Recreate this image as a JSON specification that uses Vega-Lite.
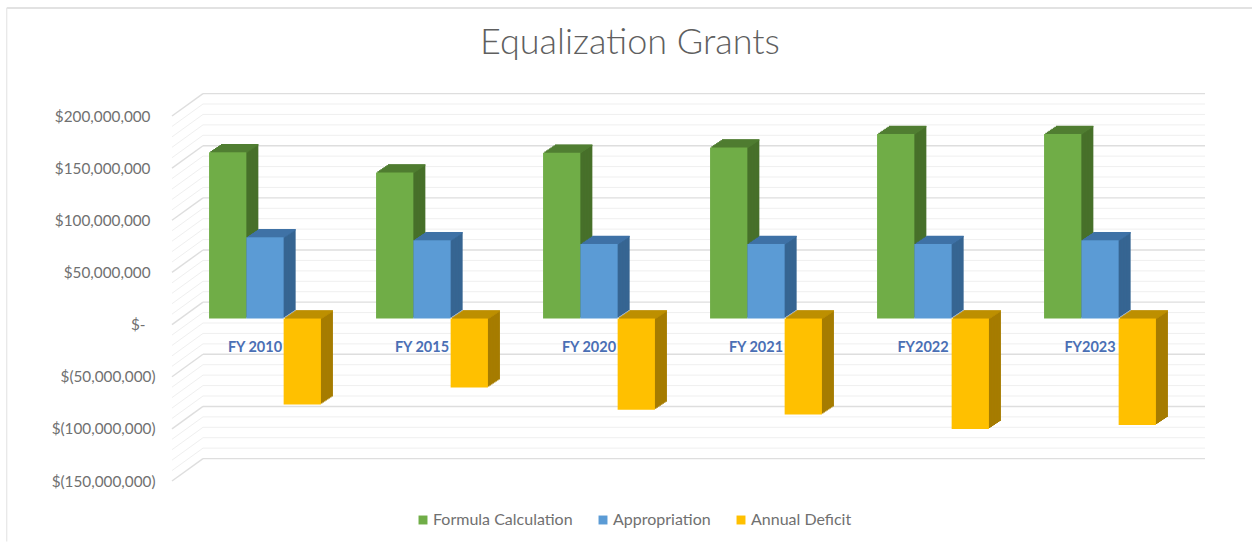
{"$schema":"https://vega.github.io/schema/vega-lite/v6.json","width":1033,"height":365,"autosize":"none","padding":{"left":172,"top":116,"right":47,"bottom":61},"background":"white","config":{"view":{"stroke":null}},
"title":{"text":"Equalization Grants","anchor":"start","frame":"group","dx":308,"offset":-55,"font":"Lato","fontSize":36,"fontWeight":300,"color":"#5f5f5f"},
"datasets":{"bars":[
{"fy":"FY 2010","series":"Formula Calculation","value":159500000},{"fy":"FY 2010","series":"Appropriation","value":78000000},{"fy":"FY 2010","series":"Annual Deficit","value":-82500000},
{"fy":"FY 2015","series":"Formula Calculation","value":140000000},{"fy":"FY 2015","series":"Appropriation","value":75000000},{"fy":"FY 2015","series":"Annual Deficit","value":-66000000},
{"fy":"FY 2020","series":"Formula Calculation","value":159000000},{"fy":"FY 2020","series":"Appropriation","value":71500000},{"fy":"FY 2020","series":"Annual Deficit","value":-87500000},
{"fy":"FY 2021","series":"Formula Calculation","value":164000000},{"fy":"FY 2021","series":"Appropriation","value":71500000},{"fy":"FY 2021","series":"Annual Deficit","value":-92000000},
{"fy":"FY2022","series":"Formula Calculation","value":177000000},{"fy":"FY2022","series":"Appropriation","value":71500000},{"fy":"FY2022","series":"Annual Deficit","value":-106000000},
{"fy":"FY2023","series":"Formula Calculation","value":177000000},{"fy":"FY2023","series":"Appropriation","value":75000000},{"fy":"FY2023","series":"Annual Deficit","value":-102000000}],
"major":[{"v":200000000},{"v":150000000},{"v":100000000},{"v":50000000},{"v":0},{"v":-50000000},{"v":-100000000},{"v":-150000000}],
"minor":[{"v":190000000},{"v":180000000},{"v":170000000},{"v":160000000},{"v":140000000},{"v":130000000},{"v":120000000},{"v":110000000},{"v":90000000},{"v":80000000},{"v":70000000},{"v":60000000},{"v":40000000},{"v":30000000},{"v":20000000},{"v":10000000},{"v":-10000000},{"v":-20000000},{"v":-30000000},{"v":-40000000},{"v":-60000000},{"v":-70000000},{"v":-80000000},{"v":-90000000},{"v":-110000000},{"v":-120000000},{"v":-130000000},{"v":-140000000}],
"labels":[{"fy":"FY 2010"},{"fy":"FY 2015"},{"fy":"FY 2020"},{"fy":"FY 2021"},{"fy":"FY2022"},{"fy":"FY2023"}]},
"resolve":{"scale":{"x":"independent","color":"independent"}},
"layer":[
{"data":{"name":"minor"},"transform":[{"calculate":"datum.v+21500000","as":"back"}],"layer":[
{"mark":{"type":"rule","stroke":"#efefef","strokeWidth":1},"encoding":{"x":{"datum":0.03,"type":"quantitative","scale":{"domain":[0,1]},"axis":null},"x2":{"datum":1},"y":{"field":"back","type":"quantitative","scale":{"domain":[-150000000,200000000],"nice":false},"title":null,"axis":{"values":[200000000,150000000,100000000,50000000,0,-50000000,-100000000,-150000000],"grid":false,"domain":false,"ticks":false,"title":null,"labelFont":"Lato","labelFontSize":15.3,"labelColor":"#707070","labelPadding":17,"labelAlign":"right","labelExpr":"datum.value>0?'$'+format(datum.value,','):datum.value<0?'$('+format(-datum.value,',')+')':'$-'","encoding":{"labels":{"dx":{"value":{"expr":"datum.value>0?-5:datum.value<0?0:-10"}}}}}}}},
{"mark":{"type":"rule","stroke":"#efefef","strokeWidth":1},"encoding":{"x":{"datum":0,"type":"quantitative","scale":{"domain":[0,1]},"axis":null},"x2":{"datum":0.03},"y":{"field":"v","type":"quantitative"},"y2":{"field":"back"}}}]},
{"data":{"name":"major"},"transform":[{"calculate":"datum.v+21500000","as":"back"}],"layer":[
{"mark":{"type":"rule","stroke":"#dedede","strokeWidth":1.4},"encoding":{"x":{"datum":0.03,"type":"quantitative","scale":{"domain":[0,1]},"axis":null},"x2":{"datum":1},"y":{"field":"back","type":"quantitative"}}},
{"mark":{"type":"rule","stroke":"#dedede","strokeWidth":1.4},"encoding":{"x":{"datum":0,"type":"quantitative","scale":{"domain":[0,1]},"axis":null},"x2":{"datum":0.03},"y":{"field":"v","type":"quantitative"},"y2":{"field":"back"}}}]},
{"data":{"values":[{"frame":"edge"}]},"layer":[
{"mark":{"type":"rule","stroke":"#d8d8d8","strokeWidth":1.5},"encoding":{"x":{"datum":-0.16,"type":"quantitative","scale":{"domain":[0,1]},"axis":null},"x2":{"datum":1.05},"y":{"datum":303600000,"type":"quantitative"}}},
{"mark":{"type":"rule","stroke":"#e6e6e6","strokeWidth":1.2},"encoding":{"x":{"datum":-0.16,"type":"quantitative","scale":{"domain":[0,1]},"axis":null},"y":{"datum":303600000,"type":"quantitative"},"y2":{"datum":-208000000}}}]},
{"data":{"name":"bars"},"transform":[{"calculate":"max(datum.value,0)","as":"top"}],
"encoding":{"xOffset":{"field":"series","type":"nominal","scale":{"domain":["Formula Calculation","Appropriation","Annual Deficit"]}}},
"resolve":{"scale":{"color":"independent","x":"independent"}},
"layer":[
{"encoding":{"y":{"field":"value","type":"quantitative"},"color":{"field":"series","type":"nominal","legend":null,"scale":{"domain":["Formula Calculation","Appropriation","Annual Deficit"],"range":["#47702a","#366592","#a67c00"]}}},
"resolve":{"scale":{"x":"independent"}},
"layer":[
{"mark":{"type":"bar","yOffset":-14,"y2Offset":-14},"encoding":{"x":{"field":"fy","type":"nominal","axis":null,"sort":null,"scale":{"range":[21.5,1023.5],"paddingInner":0.33,"paddingOuter":0.165}}}},
{"mark":{"type":"bar","yOffset":-13,"y2Offset":-13},"encoding":{"x":{"field":"fy","type":"nominal","axis":null,"sort":null,"scale":{"range":[20,1022],"paddingInner":0.33,"paddingOuter":0.165}}}},
{"mark":{"type":"bar","yOffset":-12,"y2Offset":-12},"encoding":{"x":{"field":"fy","type":"nominal","axis":null,"sort":null,"scale":{"range":[18.5,1020.5],"paddingInner":0.33,"paddingOuter":0.165}}}},
{"mark":{"type":"bar","yOffset":-11,"y2Offset":-11},"encoding":{"x":{"field":"fy","type":"nominal","axis":null,"sort":null,"scale":{"range":[17,1019],"paddingInner":0.33,"paddingOuter":0.165}}}},
{"mark":{"type":"bar","yOffset":-10,"y2Offset":-10},"encoding":{"x":{"field":"fy","type":"nominal","axis":null,"sort":null,"scale":{"range":[15.5,1017.5],"paddingInner":0.33,"paddingOuter":0.165}}}},
{"mark":{"type":"bar","yOffset":-9,"y2Offset":-9},"encoding":{"x":{"field":"fy","type":"nominal","axis":null,"sort":null,"scale":{"range":[14,1016],"paddingInner":0.33,"paddingOuter":0.165}}}},
{"mark":{"type":"bar","yOffset":-8,"y2Offset":-8},"encoding":{"x":{"field":"fy","type":"nominal","axis":null,"sort":null,"scale":{"range":[12.5,1014.5],"paddingInner":0.33,"paddingOuter":0.165}}}},
{"mark":{"type":"bar","yOffset":-7,"y2Offset":-7},"encoding":{"x":{"field":"fy","type":"nominal","axis":null,"sort":null,"scale":{"range":[11,1013],"paddingInner":0.33,"paddingOuter":0.165}}}}]},
{"encoding":{"y":{"field":"top","type":"quantitative"},"color":{"field":"series","type":"nominal","legend":null,"scale":{"domain":["Formula Calculation","Appropriation","Annual Deficit"],"range":["#507e32","#3f72a6","#bf9000"]}}},
"resolve":{"scale":{"x":"independent"}},
"layer":[
{"mark":{"type":"tick","size":37.3,"thickness":1.5,"opacity":1,"yOffset":-13.5},"encoding":{"x":{"field":"fy","type":"nominal","axis":null,"sort":null,"scale":{"range":[21.5,1023.5],"paddingInner":0.33,"paddingOuter":0.165}}}},
{"mark":{"type":"tick","size":37.3,"thickness":1.5,"opacity":1,"yOffset":-12.5},"encoding":{"x":{"field":"fy","type":"nominal","axis":null,"sort":null,"scale":{"range":[20,1022],"paddingInner":0.33,"paddingOuter":0.165}}}},
{"mark":{"type":"tick","size":37.3,"thickness":1.5,"opacity":1,"yOffset":-11.5},"encoding":{"x":{"field":"fy","type":"nominal","axis":null,"sort":null,"scale":{"range":[18.5,1020.5],"paddingInner":0.33,"paddingOuter":0.165}}}},
{"mark":{"type":"tick","size":37.3,"thickness":1.5,"opacity":1,"yOffset":-10.5},"encoding":{"x":{"field":"fy","type":"nominal","axis":null,"sort":null,"scale":{"range":[17,1019],"paddingInner":0.33,"paddingOuter":0.165}}}},
{"mark":{"type":"tick","size":37.3,"thickness":1.5,"opacity":1,"yOffset":-9.5},"encoding":{"x":{"field":"fy","type":"nominal","axis":null,"sort":null,"scale":{"range":[15.5,1017.5],"paddingInner":0.33,"paddingOuter":0.165}}}},
{"mark":{"type":"tick","size":37.3,"thickness":1.5,"opacity":1,"yOffset":-8.5},"encoding":{"x":{"field":"fy","type":"nominal","axis":null,"sort":null,"scale":{"range":[14,1016],"paddingInner":0.33,"paddingOuter":0.165}}}},
{"mark":{"type":"tick","size":37.3,"thickness":1.5,"opacity":1,"yOffset":-7.5},"encoding":{"x":{"field":"fy","type":"nominal","axis":null,"sort":null,"scale":{"range":[12.5,1014.5],"paddingInner":0.33,"paddingOuter":0.165}}}},
{"mark":{"type":"tick","size":37.3,"thickness":1.5,"opacity":1,"yOffset":-6.5},"encoding":{"x":{"field":"fy","type":"nominal","axis":null,"sort":null,"scale":{"range":[11,1013],"paddingInner":0.33,"paddingOuter":0.165}}}}]},
{"mark":{"type":"bar","yOffset":-6,"y2Offset":-6},"encoding":{"x":{"field":"fy","type":"nominal","axis":null,"sort":null,"scale":{"range":[9.5,1011.5],"paddingInner":0.33,"paddingOuter":0.165}},"y":{"field":"value","type":"quantitative"},"color":{"field":"series","type":"nominal","scale":{"domain":["Formula Calculation","Appropriation","Annual Deficit"],"range":["#70ad47","#5b9bd5","#ffc000"]},"legend":{"title":null,"orient":"none","legendX":243,"legendY":396,"direction":"horizontal","symbolType":"square","symbolSize":80,"labelFont":"Lato","labelFontSize":16,"labelColor":"#707070","columnPadding":22,"labelOffset":2}}}}
]},
{"data":{"name":"labels"},"mark":{"type":"text","font":"Lato","fontSize":14.5,"fontWeight":"bold","color":"#4a6fb5","xOffset":-10},"encoding":{"x":{"field":"fy","type":"nominal","axis":null,"sort":null,"scale":{"range":[9.5,1011.5],"paddingInner":0.33,"paddingOuter":0.165}},"y":{"datum":-22000000,"type":"quantitative"},"text":{"field":"fy"}}}
]}
